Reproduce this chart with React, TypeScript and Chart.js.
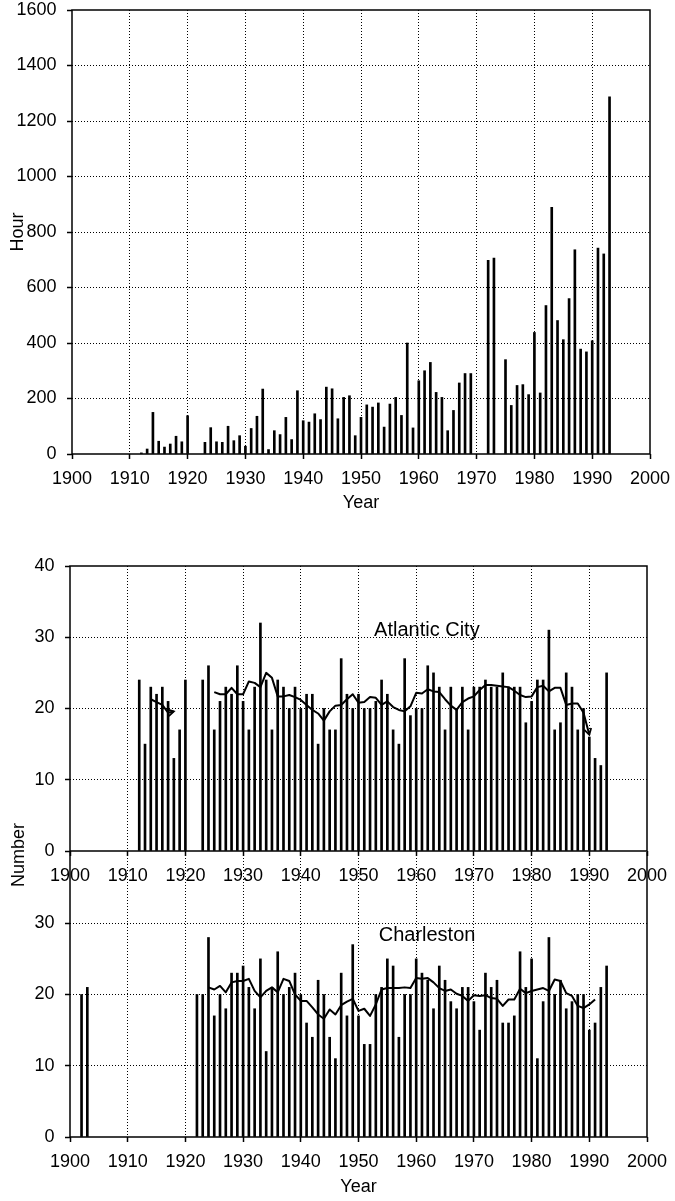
import React, { useEffect, useRef } from "react";
import { Chart, registerables } from "chart.js";

Chart.register(...registerables);

const FONT = '"Liberation Sans", Arial, Helvetica, sans-serif';
const TICK_FONT = { family: FONT, size: 18 };
const CLEAR = "rgba(0,0,0,0)";

// ---------- Top panel: hours per year ----------
const hourYears = [
  1912, 1913, 1914, 1915, 1916, 1917, 1918, 1919, 1920,
  1923, 1924, 1925, 1926, 1927, 1928, 1929, 1930, 1931, 1932,
  1933, 1934, 1935, 1936, 1937, 1938, 1939, 1940, 1941, 1942,
  1943, 1944, 1945, 1946, 1947, 1948, 1949, 1950, 1951, 1952,
  1953, 1954, 1955, 1956, 1957, 1958, 1959, 1960, 1961, 1962,
  1963, 1964, 1965, 1966, 1967, 1968, 1969,
  1972, 1973,
  1975, 1976, 1977, 1978, 1979, 1980, 1981, 1982, 1983, 1984,
  1985, 1986, 1987, 1988, 1989, 1990, 1991, 1992, 1993,
];
const hourValues = [
  4, 18, 150, 46, 25, 36, 64, 44, 138,
  42, 95, 44, 42, 100, 48, 66, 28, 92, 136,
  234, 16, 84, 70, 132, 52, 228, 120, 115, 145,
  124, 241, 235, 127, 204, 210, 66, 132, 177, 169,
  184, 97, 180, 204, 139, 400, 94, 264, 300, 330,
  222, 204, 84, 157, 256, 290, 290,
  698, 706,
  340, 175, 247, 250, 214, 438, 220, 535, 889, 481,
  412, 560, 736, 378, 368, 408, 742, 721, 1287,
];

// ---------- Middle panel: Atlantic City ----------
const atlanticYears = [
  1912, 1913, 1914, 1915, 1916, 1917, 1918, 1919, 1920,
  1923, 1924, 1925, 1926, 1927, 1928, 1929, 1930, 1931, 1932,
  1933, 1934, 1935, 1936, 1937, 1938, 1939, 1940, 1941, 1942,
  1943, 1944, 1945, 1946, 1947, 1948, 1949, 1950, 1951, 1952,
  1953, 1954, 1955, 1956, 1957, 1958, 1959, 1960, 1961, 1962,
  1963, 1964, 1965, 1966, 1967, 1968, 1969, 1970, 1971, 1972,
  1973, 1974, 1975, 1976, 1977, 1978, 1979, 1980, 1981, 1982,
  1983, 1984, 1985, 1986, 1987, 1988, 1989, 1990, 1991, 1992, 1993,
];
const atlanticCounts = [
  24, 15, 23, 22, 23, 21, 13, 17, 24,
  24, 26, 17, 21, 23, 22, 26, 21, 17, 23,
  32, 24, 17, 24, 23, 20, 23, 20, 22, 22,
  15, 20, 17, 17, 27, 22, 20, 22, 20, 20,
  21, 24, 22, 17, 15, 27, 19, 20, 20, 26,
  25, 23, 17, 23, 20, 23, 17, 23, 23, 24,
  23, 23, 25, 23, 23, 23, 18, 21, 24, 24,
  31, 17, 18, 25, 23, 17, 20, 16, 13, 12, 25,
];
const atlanticAvgYears = [
  1914, 1915, 1916, 1917, 1918, 1919,
  1925, 1926, 1927, 1928, 1929, 1930, 1931, 1932, 1933, 1934,
  1935, 1936, 1937, 1938, 1939, 1940, 1941, 1942, 1943, 1944,
  1945, 1946, 1947, 1948, 1949, 1950, 1951, 1952, 1953, 1954,
  1955, 1956, 1957, 1958, 1959, 1960, 1961, 1962, 1963, 1964,
  1965, 1966, 1967, 1968, 1969, 1970, 1971, 1972, 1973, 1974,
  1975, 1976, 1977, 1978, 1979, 1980, 1981, 1982, 1983, 1984,
  1985, 1986, 1987, 1988, 1989, 1990,
];
const atlanticAvg = [
  21.3, 20.9, 20.5, 19.4, 19.6, null,
  22.3, 22.0, 22.0, 22.9, 22.0, 22.0, 23.8, 23.6, 23.0, 25.0,
  24.3, 21.7, 21.7, 21.9, 21.6, 21.2, 20.5, 19.8, 19.3, 18.3,
  19.6, 20.4, 20.5, 21.3, 22.0, 20.8, 20.9, 21.6, 21.5, 20.5,
  21.0, 20.2, 19.8, 19.6, 20.3, 22.2, 22.1, 22.7, 22.4, 22.3,
  21.3, 20.4, 19.8, 20.9, 21.4, 21.7, 22.6, 23.3, 23.3, 23.2,
  23.1, 23.0, 22.5, 21.9, 21.6, 21.7, 23.0, 23.2, 22.4, 22.9,
  22.9, 20.5, 20.7, 20.7, 19.4, 16.3,
];

// ---------- Bottom panel: Charleston ----------
const charlestonYears = [
  1902, 1903,
  1922, 1923, 1924, 1925, 1926, 1927, 1928, 1929, 1930, 1931,
  1932, 1933, 1934, 1935, 1936, 1937, 1938, 1939, 1940, 1941,
  1942, 1943, 1944, 1945, 1946, 1947, 1948, 1949, 1950, 1951,
  1952, 1953, 1954, 1955, 1956, 1957, 1958, 1959, 1960, 1961,
  1962, 1963, 1964, 1965, 1966, 1967, 1968, 1969, 1970, 1971,
  1972, 1973, 1974, 1975, 1976, 1977, 1978, 1979, 1980, 1981,
  1982, 1983, 1984, 1985, 1986, 1987, 1988, 1989, 1990, 1991, 1992, 1993,
];
const charlestonCounts = [
  20, 21,
  20, 20, 28, 17, 20, 18, 23, 23, 24, 21,
  18, 25, 12, 21, 26, 20, 21, 23, 20, 16,
  14, 22, 20, 14, 11, 23, 17, 27, 17, 13,
  13, 20, 21, 25, 24, 14, 20, 20, 25, 23,
  22, 18, 24, 22, 19, 18, 21, 21, 19, 15,
  23, 21, 22, 16, 16, 17, 26, 21, 25, 11,
  19, 28, 20, 22, 18, 19, 20, 20, 15, 16, 21, 24,
];
const charlestonAvgYears = [
  1924, 1925, 1926, 1927, 1928, 1929, 1930, 1931, 1932, 1933,
  1934, 1935, 1936, 1937, 1938, 1939, 1940, 1941, 1942, 1943,
  1944, 1945, 1946, 1947, 1948, 1949, 1950, 1951, 1952, 1953,
  1954, 1955, 1956, 1957, 1958, 1959, 1960, 1961, 1962, 1963,
  1964, 1965, 1966, 1967, 1968, 1969, 1970, 1971, 1972, 1973,
  1974, 1975, 1976, 1977, 1978, 1979, 1980, 1981, 1982, 1983,
  1984, 1985, 1986, 1987, 1988, 1989, 1990, 1991,
];
const charlestonAvg = [
  21.0, 20.7, 21.2, 20.3, 21.7, 21.9, 21.9, 22.2, 20.5, 19.6,
  20.5, 21.0, 20.3, 22.2, 21.9, 20.0, 19.1, 19.1, 18.2, 17.2,
  16.6, 17.9, 17.2, 18.5, 19.0, 19.4, 17.7, 18.0, 17.0, 18.6,
  20.7, 20.9, 20.9, 20.9, 21.0, 20.9, 22.3, 22.2, 22.3, 21.7,
  20.9, 20.5, 20.7, 20.1, 19.8, 19.1, 19.9, 19.8, 19.9, 19.5,
  19.4, 18.4, 19.3, 19.3, 20.8, 20.2, 20.5, 20.7, 20.9, 20.5,
  22.1, 21.9, 20.2, 19.8, 18.4, 18.1, 18.6, 19.3,
];

const xTickValues = [1900, 1910, 1920, 1930, 1940, 1950, 1960, 1970, 1980, 1990, 2000];

const pairs = (xs: number[], ys: (number | null)[]) => xs.map((x, i) => ({ x, y: ys[i] }));

// ---------- plugins ----------
const framePlugin = {
  id: "frame",
  afterDatasetsDraw(chart: any, _args: any, opts: any) {
    const { ctx, chartArea: a } = chart;
    ctx.save();
    ctx.setLineDash([]);
    ctx.strokeStyle = "#000";
    ctx.lineWidth = 1.5;
    ctx.beginPath();
    if (opts.top) {
      ctx.moveTo(a.left, a.bottom);
      ctx.lineTo(a.left, a.top);
      ctx.lineTo(a.right, a.top);
      ctx.lineTo(a.right, a.bottom);
    } else {
      ctx.moveTo(a.left, a.top);
      ctx.lineTo(a.left, a.bottom);
      ctx.moveTo(a.right, a.top);
      ctx.lineTo(a.right, a.bottom);
    }
    ctx.moveTo(a.left, a.bottom);
    ctx.lineTo(a.right, a.bottom);
    ctx.stroke();
    ctx.restore();
  },
};

const textPlugin = {
  id: "panelText",
  afterDatasetsDraw(chart: any, _args: any, opts: any) {
    if (!opts || !opts.text) return;
    const { ctx, scales } = chart;
    ctx.save();
    ctx.fillStyle = "#000";
    ctx.font = `20px ${FONT}`;
    ctx.textAlign = "left";
    ctx.textBaseline = "alphabetic";
    ctx.fillText(opts.text, scales.x.getPixelForValue(opts.x), scales.y.getPixelForValue(opts.y));
    ctx.restore();
  },
};

const arrowPlugin = {
  id: "arrowEnds",
  afterDatasetsDraw(chart: any, _args: any, opts: any) {
    if (!opts || !opts.enabled) return;
    const meta = chart.getDatasetMeta(0);
    const raw = chart.data.datasets[0].data as any[];
    const pts = meta.data;
    const ctx = chart.ctx;
    ctx.save();
    ctx.setLineDash([]);
    ctx.strokeStyle = "#000";
    ctx.lineWidth = 1.8;
    for (let i = 1; i < pts.length; i++) {
      if (raw[i].y === null || raw[i - 1].y === null) continue;
      const last = i === pts.length - 1 || raw[i + 1].y === null;
      if (!last) continue;
      const p = pts[i];
      const q = pts[i - 1];
      const ang = Math.atan2(p.y - q.y, p.x - q.x);
      const L = 7;
      const A = Math.PI / 6;
      ctx.beginPath();
      ctx.moveTo(p.x - L * Math.cos(ang - A), p.y - L * Math.sin(ang - A));
      ctx.lineTo(p.x, p.y);
      ctx.lineTo(p.x - L * Math.cos(ang + A), p.y - L * Math.sin(ang + A));
      ctx.stroke();
    }
    ctx.restore();
  },
};

type PanelOpts = {
  bars: { x: number; y: number | null }[];
  avg?: { x: number; y: number | null }[];
  yMax: number;
  yStep: number;
  hiddenYLabels: number[];
  frameTop: boolean;
  xTitle?: string;
  yTitle?: string;
  padTop: number;
  padRight: number;
  yWidth: number;
  xHeight: number;
  xTitlePadBottom: number;
  text?: { text: string; x: number; y: number };
  arrows?: boolean;
};

function buildConfig(o: PanelOpts): any {
  const datasets: any[] = [];
  if (o.avg) {
    datasets.push({
      type: "line",
      data: o.avg,
      borderColor: "#000",
      borderWidth: 2,
      pointRadius: 0,
      tension: 0,
      spanGaps: false,
      borderJoinStyle: "round",
      order: 0,
    });
  }
  datasets.push({
    type: "bar",
    data: o.bars,
    backgroundColor: "#000",
    borderWidth: 0,
    barThickness: 2,
    order: 1,
  });
  return {
    type: "bar",
    data: { datasets },
    plugins: [framePlugin, textPlugin, arrowPlugin],
    options: {
      responsive: false,
      animation: false,
      events: [],
      devicePixelRatio: 1,
      layout: { padding: { top: o.padTop, right: o.padRight, left: 0, bottom: 0 } },
      plugins: {
        legend: { display: false },
        tooltip: { enabled: false },
        frame: { top: o.frameTop },
        panelText: o.text || {},
        arrowEnds: { enabled: !!o.arrows },
      },
      scales: {
        x: {
          type: "linear",
          min: 1900,
          max: 2000,
          offset: false,
          afterBuildTicks: (s: any) => {
            s.ticks = xTickValues.map((v) => ({ value: v }));
          },
          ticks: {
            autoSkip: false,
            maxRotation: 0,
            minRotation: 0,
            padding: 9,
            color: "#000",
            font: TICK_FONT,
            callback: (v: any) => String(v),
          },
          grid: {
            offset: false,
            color: (c: any) => (c.tick && (c.tick.value === 1900 || c.tick.value === 2000) ? CLEAR : "#000"),
            lineWidth: 1,
            drawTicks: true,
            tickLength: 5,
            tickColor: "#000",
            tickWidth: 1.5,
            tickBorderDash: [],
          },
          border: { display: false, dash: [1, 2] },
          title: {
            display: !!o.xTitle,
            text: o.xTitle || "",
            color: "#000",
            font: TICK_FONT,
            padding: { top: 0, bottom: o.xTitlePadBottom },
          },
          afterFit: (s: any) => {
            s.height = o.xHeight;
            s.paddingLeft = 0;
            s.paddingRight = 0;
          },
        },
        y: {
          type: "linear",
          min: 0,
          max: o.yMax,
          ticks: {
            stepSize: o.yStep,
            padding: 10.5,
            color: "#000",
            font: TICK_FONT,
            callback: (v: any) => (o.hiddenYLabels.includes(v) ? "" : String(v)),
          },
          grid: {
            color: (c: any) => (c.tick && (c.tick.value === 0 || c.tick.value === o.yMax) ? CLEAR : "#000"),
            lineWidth: 1,
            drawTicks: true,
            tickLength: 5,
            tickColor: (c: any) => (c.tick && o.hiddenYLabels.includes(c.tick.value) ? CLEAR : "#000"),
            tickWidth: 1.5,
            tickBorderDash: [],
          },
          border: { display: false, dash: [1, 2] },
          title: {
            display: !!o.yTitle,
            text: o.yTitle || "",
            color: "#000",
            font: TICK_FONT,
            padding: { top: 7, bottom: 0 },
          },
          afterFit: (s: any) => {
            s.width = o.yWidth;
            s.paddingTop = 0;
            s.paddingBottom = 0;
          },
        },
      },
    },
  };
}

function Panel({ top, height, opts }: { top: number; height: number; opts: PanelOpts }) {
  const ref = useRef<HTMLCanvasElement>(null);
  useEffect(() => {
    const chart = new Chart(ref.current as HTMLCanvasElement, buildConfig(opts));
    return () => chart.destroy();
  }, []);
  return (
    <canvas
      ref={ref}
      width={675}
      height={height}
      style={{ position: "absolute", left: 0, top, width: 675, height }}
    />
  );
}

export default function App() {
  const topOpts: PanelOpts = {
    bars: pairs(hourYears, hourValues),
    yMax: 1600,
    yStep: 200,
    hiddenYLabels: [],
    frameTop: true,
    xTitle: "Year",
    yTitle: "Hour",
    padTop: 10,
    padRight: 25,
    yWidth: 72,
    xHeight: 76,
    xTitlePadBottom: 16,
  };
  const midOpts: PanelOpts = {
    bars: pairs(atlanticYears, atlanticCounts),
    avg: pairs(atlanticAvgYears, atlanticAvg),
    yMax: 40,
    yStep: 10,
    hiddenYLabels: [],
    frameTop: true,
    padTop: 26,
    padRight: 28,
    yWidth: 70,
    xHeight: 59,
    xTitlePadBottom: 0,
    text: { text: "Atlantic City", x: 1952.7, y: 30.15 },
    arrows: true,
  };
  const botOpts: PanelOpts = {
    bars: pairs(charlestonYears, charlestonCounts),
    avg: pairs(charlestonAvgYears, charlestonAvg),
    yMax: 40,
    yStep: 10,
    hiddenYLabels: [40],
    frameTop: false,
    xTitle: "Year",
    padTop: 32,
    padRight: 28,
    yWidth: 70,
    xHeight: 64,
    xTitlePadBottom: 3,
    text: { text: "Charleston", x: 1953.5, y: 27.5 },
  };
  return (
    <div
      style={{
        position: "absolute",
        left: 0,
        top: 0,
        width: 675,
        height: 1201,
        overflow: "hidden",
        background: "#fff",
        fontFamily: FONT,
      }}
    >
      <Panel top={0} height={530} opts={topOpts} />
      <Panel top={540} height={370} opts={midOpts} />
      <Panel top={820} height={381} opts={botOpts} />
      <div
        style={{
          position: "absolute",
          left: 18,
          top: 855,
          transform: "translate(-50%, -50%) rotate(-90deg)",
          fontSize: 18,
          fontFamily: FONT,
          color: "#000",
          whiteSpace: "nowrap",
          lineHeight: 1,
        }}
      >
        Number
      </div>
    </div>
  );
}
